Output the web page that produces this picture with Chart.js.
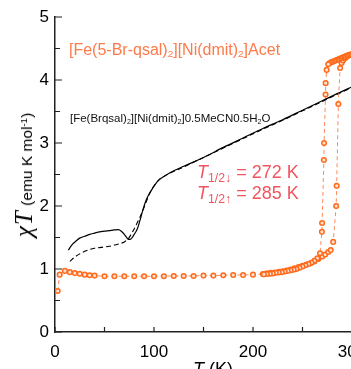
<!DOCTYPE html>
<html>
<head>
<meta charset="utf-8">
<script src="https://cdn.jsdelivr.net/npm/chart.js@4.4.1/dist/chart.umd.min.js"></script>
<style>
  html, body { margin:0; padding:0; background:#fff; overflow:hidden; width:351px; height:369px; }
  #wrap { position:absolute; left:0; top:0; width:370px; height:385px; }
  .lbl { position:absolute; white-space:nowrap; font-family:"Liberation Sans", Arial, sans-serif; }
  .sub { font-size:0.68em; position:relative; top:0.34em; }
  .sub2 { font-size:0.62em; position:relative; top:0.25em; }
</style>
</head>
<body>
<div id="wrap"><canvas id="c"></canvas></div>

<div class="lbl" style="left:69px; top:41.5px; font-size:16px; line-height:16px; color:#ff7a48;">[Fe(5-Br-qsal)<span class="sub2">2</span>][Ni(dmit)<span class="sub2">2</span>]Acet</div>
<div class="lbl" style="left:70px; top:113.3px; font-size:11.5px; line-height:11.5px; color:#111;">[Fe(Brqsal)<span class="sub2">2</span>][Ni(dmit)<span class="sub2">2</span>]0.5MeCN0.5H<span class="sub2">2</span>O</div>
<div class="lbl" style="left:197px; top:163px; font-size:18px; line-height:18px; color:#f0555f;"><i>T</i><span class="sub">1/2↓</span> = 272 K</div>
<div class="lbl" style="left:197px; top:184px; font-size:18px; line-height:18px; color:#f0555f;"><i>T</i><span class="sub">1/2↑</span> = 285 K</div>
<div class="lbl" style="left:193px; top:360px; font-size:18px; line-height:18px; color:#000;"><i>T</i> (K)</div>
<div class="lbl" style="left:26px; top:175px; transform:translate(-50%,-50%) rotate(-90deg); color:#000; line-height:26px;"><span style="font:italic 25px 'Liberation Serif', serif; letter-spacing:1px;">χT</span> <span style="font-size:15.5px;">(emu K mol<span style="font-size:0.62em; position:relative; top:-0.55em;">-1</span>)</span></div>

<script>
// ---- data ----
const heatT   = [2.7, 4.7, 10, 15, 20, 25, 30, 35, 40, 50, 60, 70, 80, 90, 100, 110, 120, 130, 140, 150, 160, 170, 180, 190, 200, 210, 214, 218, 222, 226, 230, 234, 238, 242, 246, 250, 254, 258, 262, 266, 270, 273, 276, 278.5, 281, 284, 284.5, 286.2, 288, 289.5, 291, 292.5, 294, 295.5, 297, 298.5, 300];
const heatChi = [0.65, 0.91, 0.97, 0.95, 0.935, 0.925, 0.91, 0.90, 0.895, 0.885, 0.885, 0.885, 0.885, 0.885, 0.885, 0.885, 0.89, 0.89, 0.89, 0.895, 0.895, 0.90, 0.905, 0.905, 0.91, 0.92, 0.93, 0.94, 0.945, 0.955, 0.965, 0.975, 0.99, 1.01, 1.03, 1.05, 1.07, 1.09, 1.12, 1.16, 1.20, 1.23, 1.27, 1.30, 1.43, 2.00, 2.32, 3.62, 4.19, 4.27, 4.31, 4.34, 4.36, 4.38, 4.39, 4.40, 4.40];

const coolT   = [300, 298.5, 297, 295.5, 294, 292.5, 291, 289.5, 288, 286.5, 285, 283.5, 282, 280.5, 279, 277.5, 276, 274.4, 273.4, 273.3, 271.8, 271.6, 269.8, 269.6, 267.7, 265, 262, 259, 256, 253, 250, 247, 244, 241, 238, 235, 232, 229, 226, 223, 220, 217, 214, 211];
const coolChi = [4.41, 4.40, 4.40, 4.39, 4.38, 4.37, 4.36, 4.35, 4.34, 4.33, 4.32, 4.31, 4.30, 4.29, 4.28, 4.27, 4.25, 4.16, 3.95, 3.77, 3.00, 2.73, 1.73, 1.59, 1.25, 1.17, 1.13, 1.10, 1.08, 1.06, 1.04, 1.02, 1.00, 0.99, 0.98, 0.97, 0.96, 0.95, 0.945, 0.94, 0.93, 0.925, 0.92, 0.915];

const solidT   = [13.5, 16, 18, 21, 25, 30, 35, 40, 45, 50, 55, 60, 64, 67, 70, 72, 74, 76, 78, 80, 83, 86, 89, 92, 95, 99, 104, 110, 120, 130, 150, 170, 190, 210, 230, 250, 270, 290, 300];
const solidChi = [1.30, 1.36, 1.40, 1.44, 1.49, 1.52, 1.55, 1.57, 1.59, 1.60, 1.61, 1.62, 1.625, 1.60, 1.55, 1.51, 1.47, 1.47, 1.50, 1.55, 1.63, 1.78, 1.95, 2.09, 2.19, 2.29, 2.40, 2.47, 2.56, 2.63, 2.77, 2.93, 3.08, 3.23, 3.37, 3.52, 3.67, 3.82, 3.89];

const dashT   = [15, 20, 25, 30, 35, 40, 45, 50, 55, 60, 65, 70, 74, 78, 82, 86, 90, 94, 98, 102, 106, 110, 120, 130, 150, 170, 190, 210, 230, 250, 270, 290, 300];
const dashChi = [1.12, 1.19, 1.24, 1.28, 1.31, 1.33, 1.34, 1.35, 1.36, 1.38, 1.40, 1.43, 1.48, 1.58, 1.70, 1.83, 1.98, 2.14, 2.27, 2.36, 2.43, 2.47, 2.55, 2.62, 2.77, 2.92, 3.07, 3.22, 3.36, 3.51, 3.66, 3.81, 3.88];

const xTickLabels = ['0', '100', '200', '300'];
const yTickLabels = ['0', '1', '2', '3', '4', '5'];
const xMinorTicks = [50, 150, 250];
const yMinorTicks = [0.5, 1.5, 2.5, 3.5, 4.5];

const pts = (xs, ys) => xs.map((x, i) => ({ x: x, y: ys[i] }));

const innerTicks = {
  id: 'innerTicks',
  afterDraw(chart) {
    const { ctx, chartArea: a, scales: { x, y } } = chart;
    ctx.save();
    ctx.strokeStyle = '#222';
    ctx.lineWidth = 1.2;
    ctx.beginPath();
    yTickLabels.forEach(v => { const p = y.getPixelForValue(+v); ctx.moveTo(a.left, p); ctx.lineTo(a.left + 7, p); });
    yMinorTicks.forEach(v => { const p = y.getPixelForValue(v); ctx.moveTo(a.left, p); ctx.lineTo(a.left + 5, p); });
    xTickLabels.forEach(v => { const p = x.getPixelForValue(+v); ctx.moveTo(p, a.bottom); ctx.lineTo(p, a.bottom - 5); });
    xMinorTicks.forEach(v => { const p = x.getPixelForValue(v); ctx.moveTo(p, a.bottom); ctx.lineTo(p, a.bottom - 5); });
    ctx.stroke();
    ctx.restore();
  }
};

const orange = '#ff6a1c';
const orangeLine = '#ff8a5a';
const tickFont = { family: "'Liberation Sans', Arial, sans-serif", size: 17 };

new Chart(document.getElementById('c'), {
  type: 'scatter',
  data: {
    datasets: [
      { data: pts(coolT, coolChi), showLine: true, borderColor: orangeLine, borderWidth: 1, borderDash: [4, 3],
        pointRadius: 2.3, pointBorderWidth: 1.5, pointBorderColor: orange, pointBackgroundColor: '#ffe2d2' },
      { data: pts(heatT, heatChi), showLine: true, borderColor: orangeLine, borderWidth: 1, borderDash: [4, 3],
        pointRadius: 2.3, pointBorderWidth: 1.5, pointBorderColor: orange, pointBackgroundColor: '#ffe2d2' },
      { data: pts(solidT, solidChi), showLine: true, borderColor: '#000', borderWidth: 1.2, pointRadius: 0,
        cubicInterpolationMode: 'monotone' },
      { data: pts(dashT, dashChi), showLine: true, borderColor: '#000', borderWidth: 1.1, borderDash: [5, 3], pointRadius: 0,
        cubicInterpolationMode: 'monotone' }
    ]
  },
  options: {
    responsive: true,
    maintainAspectRatio: false,
    animation: false,
    layout: { padding: { left: 0, top: 17, right: 18, bottom: 0 } },
    plugins: { legend: { display: false }, tooltip: { enabled: false } },
    scales: {
      x: {
        type: 'linear', min: 0, max: 300,
        grid: { display: false, drawTicks: false },
        border: { display: true, color: '#222', width: 1.5 },
        ticks: { stepSize: 100, color: '#000', font: tickFont, padding: 10, maxRotation: 0,
                 callback: (v) => xTickLabels.includes(String(v)) ? String(v) : '' },
        afterFit: (s) => { s.height = 53; s.paddingLeft = 0; s.paddingRight = 0; }
      },
      y: {
        type: 'linear', min: 0, max: 5,
        grid: { display: false, drawTicks: false },
        border: { display: true, color: '#222', width: 1.5 },
        ticks: { stepSize: 1, color: '#000', font: tickFont, padding: 6,
                 callback: (v) => yTickLabels.includes(String(v)) ? String(v) : '' },
        afterFit: (s) => { s.width = 55; s.paddingTop = 0; s.paddingBottom = 0; }
      }
    }
  },
  plugins: [innerTicks]
});
</script>
</body>
</html>
